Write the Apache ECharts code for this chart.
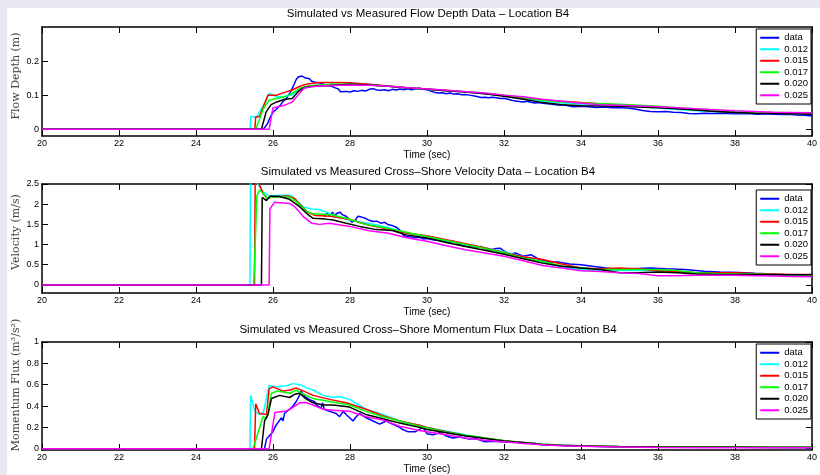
<!DOCTYPE html>
<html>
<head>
<meta charset="utf-8">
<script src="https://cdn.jsdelivr.net/npm/echarts@6/dist/echarts.min.js"></script>
<style>
  html, body { margin: 0; padding: 0; background: #e8e8f2; }
  #chart { position: absolute; left: 7px; top: 8px; width: 813px; height: 467px; background: #fff; }
</style>
</head>
<body>
<div id="chart"></div>
<script>
// legend / colours (matlab defaults b, c, r, g, k, m)
const seriesNames = ['data', '0.012', '0.015', '0.017', '0.020', '0.025'];
const seriesColors = ['#0000ff', '#00ffff', '#ff0000', '#00ff00', '#000000', '#ff00ff'];

const plotTitles = [
  'Simulated vs Measured Flow Depth Data \u2013 Location B4',
  'Simulated vs Measured Cross\u2013Shore Velocity Data \u2013 Location B4',
  'Simulated vs Measured Cross\u2013Shore Momentum Flux Data \u2013 Location B4'
];
const yNames = ['Flow Depth (m)', 'Velocity (m/s)', 'Momentum Flux (m\u00b3/s\u00b2)'];
const yRanges = [[-0.02, 0.3], [-0.2, 2.5], [-0.012, 1]];
const depthTicks = [0, 0.1, 0.2];
const velTicks = [0, 0.5, 1, 1.5, 2, 2.5];
const fluxTicks = [0, 0.2, 0.4, 0.6, 0.8, 1];

// ---- flow depth (m) : [time, value]
const depthData = [[20,0],[25.75,0],[25.85,0.015],[25.95,0.04],[26.0,0.05],[26.05,0.045],[26.1,0.06],[26.15,0.066],[26.2,0.072],[26.25,0.08],[26.3,0.085],[26.35,0.09],[26.4,0.1],[26.45,0.108],[26.5,0.12],[26.55,0.132],[26.6,0.145],[26.65,0.153],[26.7,0.158],[26.75,0.156],[26.8,0.152],[26.85,0.15],[26.9,0.147],[26.95,0.148],[27.0,0.141],[27.05,0.145],[27.1,0.138],[27.15,0.142],[27.2,0.136],[27.25,0.14],[27.3,0.133],[27.35,0.135],[27.4,0.128],[27.5,0.127],[27.6,0.122],[27.7,0.118],[27.75,0.11],[27.8,0.108],[27.9,0.111],[28.0,0.109],[28.1,0.113],[28.2,0.111],[28.3,0.114],[28.4,0.112],[28.5,0.117],[28.6,0.119],[28.7,0.115],[28.8,0.114],[28.9,0.116],[29.0,0.113],[29.1,0.117],[29.2,0.115],[29.3,0.118],[29.4,0.116],[29.5,0.119],[29.6,0.116],[29.7,0.118],[29.8,0.121],[29.9,0.117],[30.0,0.116],[30.1,0.112],[30.2,0.108],[30.3,0.106],[30.4,0.107],[30.5,0.104],[30.6,0.106],[30.7,0.103],[30.8,0.104],[30.9,0.101],[31.0,0.102],[31.1,0.1],[31.2,0.098],[31.3,0.096],[31.4,0.093],[31.5,0.094],[31.6,0.092],[31.7,0.094],[31.8,0.092],[31.9,0.09],[32.0,0.091],[32.1,0.088],[32.2,0.085],[32.3,0.083],[32.4,0.081],[32.5,0.08],[32.6,0.082],[32.7,0.079],[32.8,0.077],[32.9,0.078],[33.0,0.076],[33.2,0.074],[33.4,0.071],[33.6,0.07],[33.8,0.066],[34.0,0.067],[34.2,0.066],[34.4,0.064],[34.6,0.065],[34.8,0.063],[35.0,0.064],[35.2,0.062],[35.4,0.059],[35.6,0.055],[35.8,0.052],[36.0,0.051],[36.2,0.052],[36.4,0.05],[36.6,0.049],[36.8,0.046],[37.0,0.045],[37.2,0.047],[37.4,0.046],[37.6,0.047],[37.8,0.046],[38.0,0.045],[38.2,0.046],[38.4,0.045],[38.6,0.044],[38.8,0.045],[39.0,0.044],[39.2,0.043],[39.4,0.044],[39.6,0.042],[39.8,0.041],[40,0.039]];
const depth012 = [[20,0],[25.41,0],[25.42,0.037],[25.57,0.035],[25.75,0.07],[25.9,0.105],[26.0,0.1],[26.1,0.095],[26.3,0.097],[26.5,0.1],[26.7,0.12],[26.9,0.122],[27.1,0.128],[27.3,0.13],[27.5,0.133],[27.7,0.13],[28,0.133],[28.5,0.13],[29,0.126],[29.5,0.121],[30,0.117],[30.5,0.113],[31,0.109],[31.5,0.104],[32,0.098],[32.5,0.09],[33,0.082],[33.5,0.077],[34,0.073],[34.5,0.071],[35,0.068],[35.5,0.066],[36,0.062],[36.5,0.058],[37,0.054],[37.5,0.051],[38,0.049],[38.5,0.048],[39,0.047],[39.5,0.046],[40,0.045]];
const depth015 = [[20,0],[25.53,0],[25.55,0.036],[25.65,0.037],[25.87,0.1],[26.1,0.1],[26.3,0.108],[26.5,0.115],[26.7,0.126],[26.9,0.133],[27.2,0.137],[27.5,0.137],[28,0.136],[28.5,0.132],[29,0.127],[29.5,0.122],[30,0.118],[30.5,0.114],[31,0.11],[31.5,0.105],[32,0.099],[32.5,0.092],[33,0.086],[33.5,0.082],[34,0.078],[34.5,0.075],[35,0.071],[35.5,0.068],[36,0.065],[36.5,0.061],[37,0.057],[37.5,0.053],[38,0.05],[38.5,0.049],[39,0.048],[39.5,0.047],[40,0.046]];
const depth017 = [[20,0],[25.55,0],[25.75,0.06],[25.9,0.085],[26.1,0.09],[26.3,0.095],[26.5,0.105],[26.7,0.12],[26.9,0.127],[27.2,0.13],[27.6,0.132],[28,0.133],[28.5,0.13],[29,0.126],[29.5,0.121],[30,0.117],[30.5,0.113],[31,0.11],[31.5,0.106],[32,0.1],[32.5,0.093],[33,0.085],[33.5,0.08],[34,0.077],[34.5,0.075],[35,0.073],[35.5,0.07],[36,0.067],[36.5,0.063],[37,0.059],[37.5,0.055],[38,0.052],[38.5,0.05],[39,0.049],[39.5,0.048],[40,0.047]];
const depth020 = [[20,0],[25.7,0],[25.82,0.05],[25.95,0.072],[26.1,0.08],[26.3,0.088],[26.5,0.09],[26.65,0.11],[26.8,0.122],[27,0.125],[27.5,0.128],[28,0.132],[28.5,0.13],[29,0.126],[29.5,0.121],[30,0.117],[30.5,0.113],[31,0.109],[31.5,0.104],[32,0.097],[32.5,0.088],[33,0.078],[33.5,0.072],[34,0.069],[34.5,0.068],[35,0.067],[35.5,0.065],[36,0.063],[36.5,0.06],[37,0.056],[37.5,0.052],[38,0.049],[38.5,0.047],[39,0.046],[39.5,0.045],[40,0.044]];
const depth025 = [[20,0],[25.9,0],[26.0,0.063],[26.1,0.065],[26.3,0.07],[26.5,0.08],[26.65,0.1],[26.8,0.12],[27,0.125],[27.5,0.128],[28,0.13],[28.5,0.129],[29,0.126],[29.5,0.122],[30,0.118],[30.5,0.114],[31,0.11],[31.5,0.106],[32,0.1],[32.5,0.095],[33,0.088],[33.5,0.082],[34,0.076],[34.5,0.072],[35,0.07],[35.5,0.068],[36,0.066],[36.5,0.063],[37,0.06],[37.5,0.057],[38,0.054],[38.5,0.052],[39,0.05],[39.5,0.049],[40,0.048]];

// ---- cross-shore velocity (m/s)
const velData = [[27.3,1.76],[27.35,1.7],[27.4,1.78],[27.45,1.72],[27.5,1.76],[27.55,1.8],[27.6,1.7],[27.65,1.77],[27.7,1.73],[27.75,1.8],[27.8,1.74],[27.85,1.78],[27.9,1.7],[27.95,1.68],[28.0,1.6],[28.05,1.55],[28.1,1.56],[28.15,1.62],[28.2,1.7],[28.25,1.73],[28.3,1.68],[28.35,1.72],[28.4,1.65],[28.45,1.66],[28.5,1.6],[28.55,1.62],[28.6,1.57],[28.7,1.58],[28.8,1.53],[28.9,1.55],[29.0,1.49],[29.1,1.47],[29.2,1.43],[29.3,1.35],[29.35,1.28],[29.4,1.22],[29.45,1.18],[29.5,1.2],[29.6,1.19],[29.7,1.17],[29.8,1.18],[29.9,1.14],[30.0,1.15],[30.15,1.12],[30.4,1.11],[30.6,1.05],[30.7,1.08],[30.8,1.01],[31.0,0.96],[31.15,0.97],[31.3,0.93],[31.4,0.95],[31.6,0.86],[31.8,0.9],[31.9,0.91],[32.0,0.84],[32.15,0.76],[32.3,0.79],[32.5,0.71],[32.7,0.75],[32.9,0.64],[33.2,0.57],[33.4,0.57],[33.7,0.52],[34.0,0.5],[34.3,0.46],[34.5,0.44],[34.8,0.4],[35.3,0.4],[35.8,0.42],[36.2,0.4],[36.7,0.38],[37.2,0.34],[37.6,0.32],[38.1,0.31],[38.5,0.29],[39,0.27],[39.5,0.24],[39.9,0.22],[40,0.27]];
const vel012 = [[20,0],[25.4,0],[25.42,3.2],[25.5,2.9],[25.6,2.5],[25.75,2.3],[25.9,2.2],[26.2,2.22],[26.45,2.22],[26.6,2.1],[26.8,1.93],[27.0,1.88],[27.2,1.87],[27.5,1.76],[27.8,1.66],[28,1.6],[28.5,1.52],[29,1.42],[29.5,1.28],[30,1.2],[30.5,1.1],[31,1.0],[31.5,0.92],[32,0.82],[32.5,0.7],[33,0.56],[33.5,0.44],[34,0.38],[34.5,0.36],[35,0.36],[35.5,0.36],[36,0.36],[36.5,0.33],[37,0.28],[37.5,0.26],[38,0.26],[38.5,0.26],[39,0.25],[39.5,0.24],[40,0.24]];
const vel015 = [[20,0],[25.52,0],[25.54,3.0],[25.62,2.55],[25.75,2.25],[25.85,2.15],[26.0,2.18],[26.4,2.2],[26.55,2.15],[26.7,2.0],[26.9,1.8],[27.1,1.72],[27.5,1.7],[28,1.62],[28.5,1.48],[29,1.38],[29.5,1.28],[30,1.22],[30.5,1.12],[31,1.02],[31.5,0.92],[32,0.8],[32.5,0.7],[33,0.63],[33.5,0.52],[34,0.42],[34.5,0.4],[35,0.42],[35.5,0.4],[36,0.35],[36.5,0.33],[37,0.3],[37.5,0.3],[38,0.3],[38.5,0.28],[39,0.27],[39.5,0.26],[40,0.26]];
const vel017 = [[20,0],[25.5,0],[25.58,2.2],[25.65,2.35],[25.74,2.27],[25.83,2.15],[26.09,2.19],[26.45,2.17],[26.6,2.07],[26.87,1.82],[27.04,1.76],[27.5,1.74],[27.9,1.65],[28.4,1.5],[29,1.4],[29.5,1.3],[30,1.2],[30.5,1.1],[31,1.0],[31.5,0.9],[32,0.79],[32.5,0.66],[33,0.58],[33.5,0.47],[34,0.42],[34.5,0.38],[35,0.38],[35.5,0.38],[36,0.38],[36.5,0.36],[37,0.3],[37.5,0.28],[38,0.27],[38.5,0.27],[39,0.26],[39.5,0.25],[40,0.25]];
const vel020 = [[20,0],[25.7,0],[25.72,2.17],[25.83,2.09],[25.93,2.2],[26.17,2.19],[26.43,2.12],[26.69,1.94],[26.91,1.74],[27.04,1.65],[27.38,1.63],[27.56,1.61],[27.9,1.53],[28.25,1.45],[28.68,1.37],[29.1,1.35],[29.46,1.24],[30,1.16],[30.5,1.05],[31,0.95],[31.5,0.86],[32,0.76],[32.5,0.65],[33,0.54],[33.5,0.46],[34,0.42],[34.5,0.38],[35,0.3],[35.5,0.3],[36,0.32],[36.5,0.3],[37,0.27],[37.5,0.26],[38,0.26],[38.5,0.26],[39,0.25],[39.5,0.25],[40,0.25]];
const vel025 = [[20,0],[25.9,0],[25.92,1.88],[26.04,2.05],[26.43,2.02],[26.56,1.94],[26.78,1.7],[27.0,1.53],[27.21,1.5],[27.47,1.53],[27.99,1.45],[28.5,1.34],[29,1.28],[29.5,1.16],[30,1.08],[30.5,0.97],[31,0.87],[31.5,0.79],[32,0.71],[32.5,0.6],[33,0.48],[33.5,0.42],[34,0.35],[34.5,0.33],[35,0.3],[35.5,0.28],[36,0.23],[36.5,0.23],[37,0.24],[37.5,0.24],[38,0.24],[38.5,0.23],[39,0.22],[39.5,0.21],[40,0.2]];

// ---- cross-shore momentum flux (m^3/s^2)
const fluxData = [[20,0],[25.78,0],[25.83,0.09],[25.9,0.12],[26.0,0.16],[26.05,0.2],[26.1,0.23],[26.15,0.22],[26.22,0.29],[26.26,0.26],[26.3,0.33],[26.43,0.37],[26.52,0.4],[26.6,0.44],[26.69,0.5],[26.73,0.54],[26.82,0.49],[26.95,0.46],[27.08,0.44],[27.12,0.41],[27.25,0.38],[27.29,0.43],[27.33,0.37],[27.47,0.35],[27.64,0.33],[27.73,0.3],[27.82,0.35],[27.9,0.32],[27.99,0.29],[28.08,0.26],[28.16,0.3],[28.25,0.33],[28.33,0.31],[28.42,0.29],[28.6,0.26],[28.77,0.23],[28.94,0.26],[29.1,0.23],[29.29,0.2],[29.37,0.18],[29.5,0.16],[29.55,0.15],[29.7,0.16],[29.9,0.2],[30,0.14],[30.15,0.13],[30.33,0.15],[30.5,0.12],[30.67,0.1],[30.84,0.11],[31.1,0.09],[31.27,0.095],[31.5,0.065],[31.7,0.07],[32.06,0.062],[32.4,0.06],[32.75,0.053],[33,0.034],[33.6,0.03],[34.5,0.02],[36,0.015],[38,0.014],[39.9,0.012],[40,0.005]];
const flux012 = [[20,0],[25.4,0],[25.42,0.5],[25.53,0.35],[25.65,0.32],[25.75,0.34],[25.9,0.59],[26.1,0.58],[26.35,0.59],[26.52,0.61],[26.7,0.6],[26.87,0.57],[27.04,0.55],[27.3,0.5],[27.56,0.48],[27.73,0.49],[28,0.46],[28.42,0.37],[28.85,0.32],[29.29,0.26],[29.8,0.22],[30,0.2],[30.5,0.165],[31,0.13],[31.5,0.1],[32,0.075],[32.5,0.058],[33,0.043],[33.5,0.033],[34,0.027],[35,0.02],[36,0.017],[37,0.015],[38,0.014],[39,0.013],[40,0.012]];
const flux015 = [[20,0],[25.52,0],[25.55,0.42],[25.65,0.33],[25.83,0.32],[25.9,0.56],[26.0,0.58],[26.26,0.54],[26.45,0.55],[26.6,0.57],[26.8,0.54],[27.04,0.5],[27.5,0.46],[27.9,0.43],[28.42,0.37],[28.85,0.31],[29.29,0.26],[29.8,0.22],[30,0.2],[30.5,0.16],[31,0.125],[31.5,0.1],[32,0.075],[32.5,0.058],[33,0.043],[33.5,0.033],[34,0.027],[35,0.021],[36,0.018],[37,0.016],[38,0.015],[39,0.014],[40,0.014]];
const flux017 = [[20,0],[25.48,0],[25.74,0.3],[25.83,0.28],[25.96,0.52],[26.1,0.54],[26.45,0.52],[26.6,0.55],[26.8,0.51],[27.04,0.47],[27.5,0.44],[27.99,0.41],[28.42,0.35],[28.85,0.3],[29.29,0.26],[29.8,0.21],[30,0.195],[30.5,0.155],[31,0.125],[31.5,0.1],[32,0.075],[32.5,0.057],[33,0.042],[33.5,0.032],[34,0.026],[35,0.02],[36,0.017],[37,0.016],[38,0.015],[39,0.014],[40,0.014]];
const flux020 = [[20,0],[25.7,0],[25.78,0.26],[25.87,0.32],[25.96,0.47],[26.17,0.5],[26.43,0.48],[26.56,0.51],[26.69,0.52],[26.85,0.47],[27.04,0.43],[27.3,0.41],[27.56,0.41],[27.99,0.39],[28.42,0.32],[28.85,0.28],[29.29,0.24],[29.8,0.2],[30,0.18],[30.5,0.15],[31,0.12],[31.5,0.095],[32,0.072],[32.5,0.055],[33,0.04],[33.5,0.031],[34,0.025],[35,0.019],[36,0.016],[37,0.014],[38,0.013],[39,0.012],[40,0.012]];
const flux025 = [[20,0],[25.9,0],[26.05,0.34],[26.3,0.35],[26.45,0.37],[26.69,0.43],[26.87,0.43],[27.04,0.41],[27.3,0.37],[27.56,0.36],[27.99,0.35],[28.42,0.3],[28.85,0.27],[29.29,0.21],[29.8,0.17],[30,0.16],[30.5,0.13],[31,0.1],[31.5,0.08],[32,0.065],[32.5,0.05],[33,0.037],[33.5,0.028],[34,0.022],[35,0.016],[36,0.012],[37,0.01],[38,0.009],[39,0.008],[40,0.008]];

const plotSeries = [
  [depthData, depth012, depth015, depth017, depth020, depth025],
  [velData, vel012, vel015, vel017, vel020, vel025],
  [fluxData, flux012, flux015, flux017, flux020, flux025]
];
const plotTicks = [depthTicks, velTicks, fluxTicks];

const sans = 'Liberation Sans, Arial, sans-serif';
const gridTops = [19, 176, 334];
const legendTops = [21, 182, 336];
const titleY = [6, 164, 322];
const yNameY = [68, 224, 377];

let myChart = echarts.init(document.getElementById('chart'));

let grid = [], xAxis = [], yAxis = [], series = [], legend = [], graphic = [];

for (let p = 0; p < 3; p++) {
  grid.push({ left: 35, width: 771, top: gridTops[p], height: 109 });

  let axisLine = { onZero: false, lineStyle: { color: '#000', width: 1.5 } };
  let tick = { inside: true, length: 6, lineStyle: { color: '#000' } };

  xAxis.push({
    type: 'value', gridIndex: p, min: 20, max: 40, interval: 2,
    axisLine: axisLine, axisTick: tick, splitLine: { show: false },
    axisLabel: { fontSize: 9, color: '#000', margin: 3, fontFamily: sans },
    name: 'Time (sec)', nameLocation: 'middle', nameGap: 14,
    nameTextStyle: { fontSize: 10, color: '#000', fontFamily: sans }
  });
  xAxis.push({
    type: 'value', gridIndex: p, min: 20, max: 40, interval: 2, position: 'top',
    axisLine: axisLine, axisTick: tick, splitLine: { show: false },
    axisLabel: { show: false }
  });
  yAxis.push({
    type: 'value', gridIndex: p, min: yRanges[p][0], max: yRanges[p][1],
    axisLine: axisLine, splitLine: { show: false },
    axisTick: Object.assign({ customValues: plotTicks[p] }, tick),
    axisLabel: { customValues: plotTicks[p], fontSize: 9, color: '#000', margin: 3, fontFamily: sans }
  });
  yAxis.push({
    type: 'value', gridIndex: p, min: yRanges[p][0], max: yRanges[p][1], position: 'right',
    axisLine: axisLine, splitLine: { show: false },
    axisTick: Object.assign({ customValues: plotTicks[p] }, tick),
    axisLabel: { show: false }
  });

  plotSeries[p].forEach(function (d, k) {
    series.push({
      name: seriesNames[k],
      type: 'line',
      xAxisIndex: 2 * p,
      yAxisIndex: 2 * p,
      data: d,
      showSymbol: false,
      symbol: 'none',
      color: seriesColors[k],
      lineStyle: { width: 1.5, color: seriesColors[k] },
      animation: false
    });
  });

  legend.push({
    data: seriesNames,
    orient: 'vertical',
    right: 9,
    top: legendTops[p],
    backgroundColor: '#fff',
    borderColor: '#000',
    borderWidth: 1,
    padding: [3, 3, 3, 4],
    itemGap: 0,
    itemWidth: 19,
    itemHeight: 2,
    icon: 'rect',
    selectedMode: false,
    textStyle: { fontSize: 9.5, lineHeight: 11.5, color: '#000', fontFamily: sans }
  });

  graphic.push({
    type: 'text', x: 421, y: titleY[p],
    style: { text: plotTitles[p], font: '11.5px ' + sans, fill: '#000', align: 'center', verticalAlign: 'middle' }
  });
  graphic.push({
    type: 'text', x: 9, y: yNameY[p], rotation: Math.PI / 2,
    style: { text: yNames[p], font: '11px DejaVu Serif, serif', fill: '#444', align: 'center', verticalAlign: 'middle' }
  });
}

let option = {
  animation: false,
  grid: grid,
  xAxis: xAxis,
  yAxis: yAxis,
  legend: legend,
  graphic: graphic,
  series: series
};
myChart.setOption(option);
</script>
</body>
</html>
